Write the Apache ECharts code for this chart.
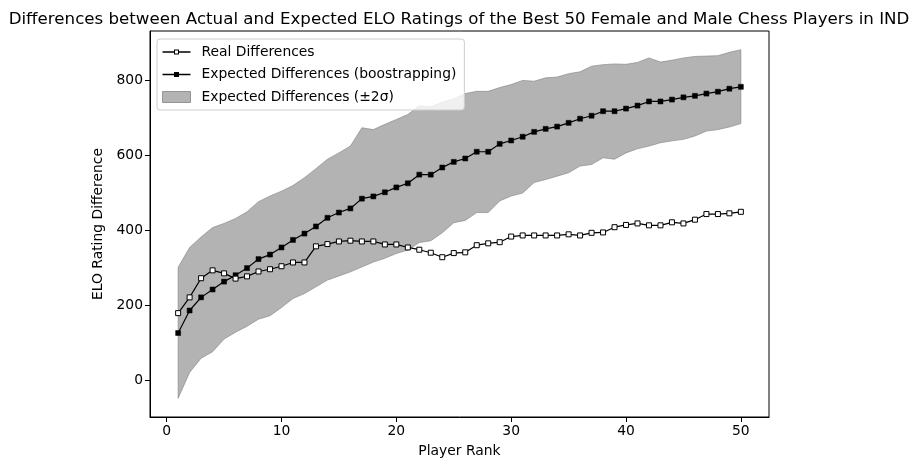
<!DOCTYPE html>
<html>
<head>
<meta charset="utf-8">
<script src="https://cdn.jsdelivr.net/npm/echarts@6/dist/echarts.min.js"></script>
<style>
html,body{margin:0;padding:0;background:#fff;}
#chart{width:918px;height:470px;}
</style>
</head>
<body>
<div id="chart"></div>
<script>
const ranks = Array.from({length: 50}, (_, i) => i + 1);
const realDiff = [180,222,273,294,286,272,278,291,297,305,315,315,358,364,371,373,371,371,363,363,355,349,341,329,340,342,361,366,369,384,387,387,387,387,390,387,394,395,409,415,419,414,414,422,419,429,444,444,446,450];
const expectedDiff = [127,187,222,243,264,281,300,324,336,355,375,392,411,434,448,459,485,491,502,515,526,549,549,568,583,592,610,610,631,640,650,663,671,677,687,698,706,718,718,725,733,744,744,749,755,759,765,770,778,783];
const bandUpper = [302,355,383,408,419,432,450,477,492,505,520,541,565,590,607,625,674,669,683,696,709,733,730,742,751,765,771,771,781,789,800,798,807,809,818,823,838,842,844,843,848,860,849,854,860,864,865,866,875,882];
const bandLower = [-47,22,60,77,111,129,145,164,173,195,219,232,250,268,279,290,303,316,326,339,348,368,373,394,421,427,448,448,479,492,500,528,536,545,554,572,576,594,590,607,618,625,634,639,643,652,665,669,676,685];
const xTicks = [0,10,20,30,40,50];
const yTicks = [0,200,400,600,800];

const FONT = 'DejaVu Sans';
const chart = echarts.init(document.getElementById('chart'), null, {renderer: 'canvas'});

const bandData = ranks.map((r, i) => [r, bandLower[i], bandUpper[i]]);

// legend handles: line with small square marker (hollow / filled)
const iconHollow = 'path://M0,4.75h11.5v1.5h-11.5z M16.5,4.75h11.5v1.5h-11.5z M11.5,3h5v5h-5z M12.5,4v3h3v-3z';
const iconFilled = 'path://M0,4.75h11.5v1.5h-11.5z M16.5,4.75h11.5v1.5h-11.5z M11.5,3h5v5h-5z';

const option = {
  backgroundColor: '#fff',
  animation: false,
  textStyle: {fontFamily: FONT},
  title: {
    text: 'Differences between Actual and Expected ELO Ratings of the Best 50 Female and Male Chess Players in IND',
    left: 'center', top: 6,
    textStyle: {fontFamily: FONT, fontSize: 16.67, fontWeight: 'normal', color: '#000'}
  },
  grid: {left: 150, right: 149, top: 31, bottom: 53, show: true, borderColor: '#000', borderWidth: 1, backgroundColor: 'transparent'},
  legend: {
    orient: 'vertical', left: 157, top: 39,
    padding: [6, 8, 6, 5], itemGap: 8.5, itemWidth: 28, itemHeight: 11,
    symbolKeepAspect: true,
    backgroundColor: 'rgba(255,255,255,0.8)', borderColor: '#cccccc', borderWidth: 1, borderRadius: 3,
    textStyle: {fontFamily: FONT, fontSize: 13.89, color: '#000', padding: [0, 0, 0, 6]},
    data: [
      {name: 'Real Differences', icon: iconHollow, itemStyle: {color: '#000', borderWidth: 0}},
      {name: 'Expected Differences (boostrapping)', icon: iconFilled, itemStyle: {color: '#000', borderWidth: 0}},
      {name: 'Expected Differences (±2σ)', icon: 'rect', itemStyle: {color: '#b3b3b3', borderColor: '#949494', borderWidth: 1}}
    ],
    z: 10
  },
  xAxis: {
    type: 'value', min: -1.45, max: 52.45,
    name: 'Player Rank', nameLocation: 'middle', nameGap: 27,
    nameTextStyle: {fontFamily: FONT, fontSize: 13.89, color: '#000'},
    axisLine: {show: true, onZero: false, lineStyle: {color: '#000', width: 1}},
    axisTick: {show: true, length: 5, lineStyle: {color: '#000'}, customValues: xTicks},
    axisLabel: {color: '#000', fontFamily: FONT, fontSize: 13.89, margin: 7, customValues: xTicks},
    splitLine: {show: false}
  },
  yAxis: {
    type: 'value', min: -96.75, max: 931.75,
    name: 'ELO Rating Difference', nameLocation: 'middle', nameGap: 44,
    nameTextStyle: {fontFamily: FONT, fontSize: 13.89, color: '#000'},
    axisLine: {show: true, onZero: false, lineStyle: {color: '#000', width: 1}},
    axisTick: {show: true, length: 5, lineStyle: {color: '#000'}, customValues: yTicks},
    axisLabel: {color: '#000', fontFamily: FONT, fontSize: 13.89, margin: 7, customValues: yTicks},
    splitLine: {show: false}
  },
  series: [
    {
      name: 'Expected Differences (±2σ)',
      type: 'custom',
      data: bandData,
      z: 1,
      encode: {x: 0, y: [1, 2]},
      renderItem: function (params, api) {
        if (params.dataIndex !== 0) return null;
        const pts = [];
        for (let i = 0; i < bandData.length; i++) pts.push(api.coord([bandData[i][0], bandData[i][2]]));
        for (let i = bandData.length - 1; i >= 0; i--) pts.push(api.coord([bandData[i][0], bandData[i][1]]));
        return {
          type: 'polygon',
          shape: {points: pts},
          style: {fill: 'rgba(128,128,128,0.6)', stroke: 'rgba(128,128,128,0.6)', lineWidth: 1}
        };
      },
      itemStyle: {color: '#b3b3b3'}
    },
    {
      name: 'Expected Differences (boostrapping)',
      type: 'line',
      data: ranks.map((r, i) => [r, expectedDiff[i]]),
      symbol: 'rect', symbolSize: 5,
      lineStyle: {color: '#000', width: 1.2},
      itemStyle: {color: '#000', borderColor: '#000', borderWidth: 0.5},
      z: 3
    },
    {
      name: 'Real Differences',
      type: 'line',
      data: ranks.map((r, i) => [r, realDiff[i]]),
      symbol: 'rect', symbolSize: 5,
      lineStyle: {color: '#000', width: 1.2},
      itemStyle: {color: '#fff', borderColor: '#000', borderWidth: 1},
      z: 4
    }
  ]
};
chart.setOption(option);
</script>
</body>
</html>
